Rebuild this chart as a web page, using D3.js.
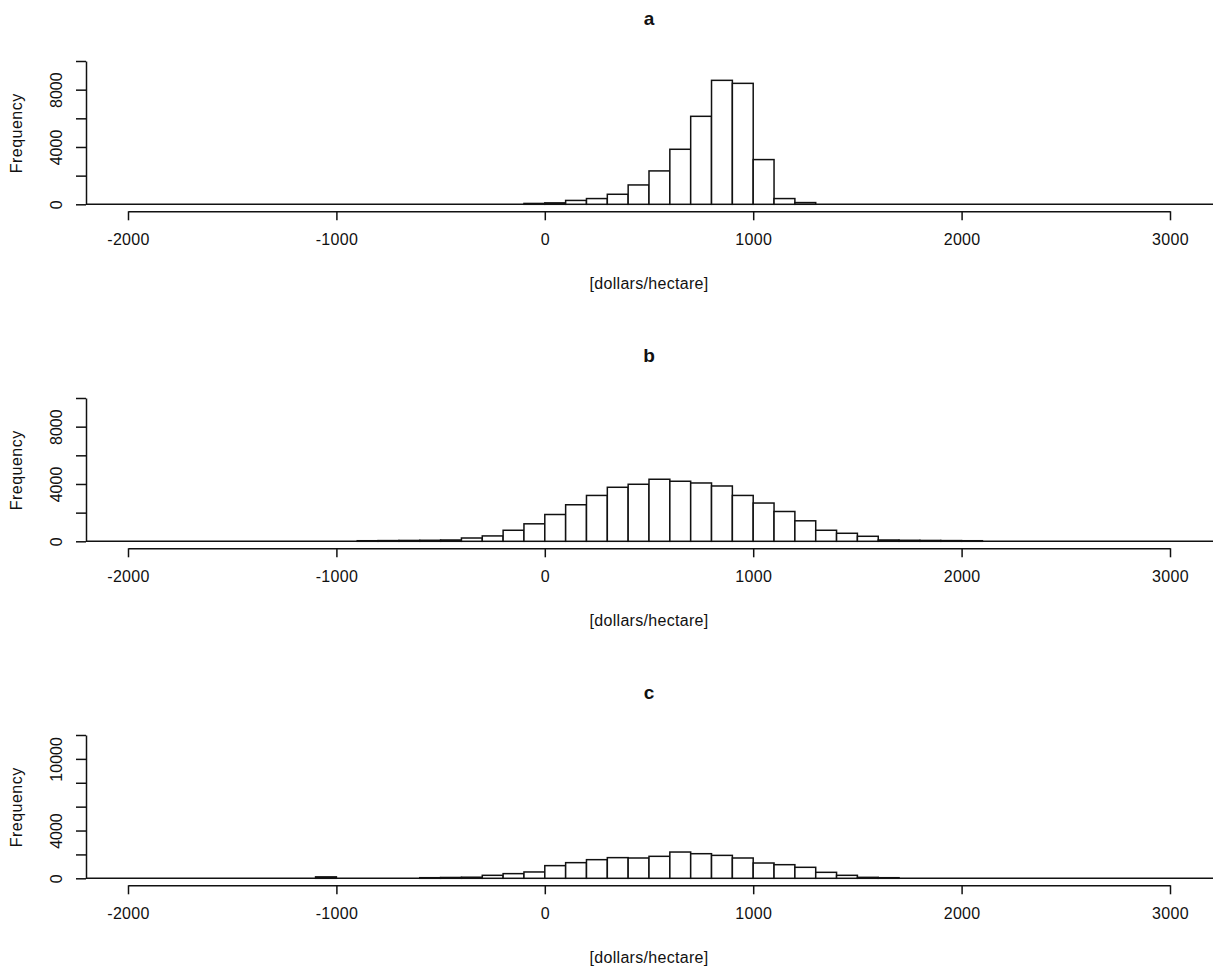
<!DOCTYPE html>
<html>
<head>
<meta charset="utf-8">
<script src="https://cdn.jsdelivr.net/npm/d3@7"></script>
<style>
  body { margin: 0; background: #fff; }
  svg { display: block; font-family: "Liberation Sans", Arial, sans-serif; }
  .axis path, .axis line, .bar, .zero { stroke: #111; stroke-width: 1.5; }
  .axis text { font-size: 16px; fill: #111; }
  .bar { fill: #fff; }
</style>
</head>
<body>
<div class="container"></div>
<script>
// lower bin edges (bin width 100) and counts
const binsA = [-100, 0, 100, 200, 300, 400, 500, 600, 700, 800, 900, 1000, 1100, 1200];
const countsA = [60, 100, 270, 400, 700, 1350, 2330, 3840, 6140, 8650, 8440, 3120, 400, 120];

const binsB = [-900, -800, -700, -600, -500, -400, -300, -200, -100, 0, 100, 200, 300, 400,
  500, 600, 700, 800, 900, 1000, 1100, 1200, 1300, 1400, 1500, 1600, 1700, 1800, 1900, 2000];
const countsB = [40, 50, 60, 70, 90, 230, 375, 770, 1220, 1870, 2550, 3200, 3770, 3980,
  4330, 4190, 4070, 3860, 3200, 2670, 2080, 1430, 770, 560, 350, 90, 70, 60, 50, 40];

const binsC = [-1100, -600, -500, -400, -300, -200, -100, 0, 100, 200, 300, 400, 500, 600,
  700, 800, 900, 1000, 1100, 1200, 1300, 1400, 1500, 1600];
const countsC = [120, 50, 70, 90, 250, 390, 530, 1060, 1310, 1560, 1730, 1700, 1840, 2200,
  2060, 1920, 1700, 1280, 1140, 920, 500, 250, 80, 50];

const xTicks = [-2000, -1000, 0, 1000, 2000, 3000];
const yTicksAB = [0, 2000, 4000, 6000, 8000, 10000];
const yLabelsAB = [0, 4000, 8000];
const yTicksC = [0, 2000, 4000, 6000, 8000, 10000, 12000];
const yLabelsC = [0, 4000, 10000];

const titles = ["a", "b", "c"];
const binWidth = 100;

const W = 1213, H = 968;
const axisX = 86;
const plotH = 143.3;

const svg = d3.select(".container")
  .append("svg")
  .attr("width", W)
  .attr("height", H);

const xScale = d3.scaleLinear().domain([-2000, 3000]).range([128, 1170]);

const panels = [
  { title: titles[0], bins: binsA, counts: countsA, yTicks: yTicksAB, yLabels: yLabelsAB, yMax: 10000, base: 204.3 },
  { title: titles[1], bins: binsB, counts: countsB, yTicks: yTicksAB, yLabels: yLabelsAB, yMax: 10000, base: 541.3 },
  { title: titles[2], bins: binsC, counts: countsC, yTicks: yTicksC, yLabels: yLabelsC, yMax: 12000, base: 878.3 }
];

panels.forEach(p => {
  const g = svg.append("g");
  const yScale = d3.scaleLinear().domain([0, p.yMax]).range([p.base, p.base - plotH]);

  // zero line across the plot
  g.append("line")
    .attr("class", "zero")
    .attr("x1", axisX)
    .attr("x2", W)
    .attr("y1", yScale(0))
    .attr("y2", yScale(0));

  // histogram bars
  g.selectAll("rect.bar")
    .data(p.bins.map((b, i) => ({ x0: b, x1: b + binWidth, n: p.counts[i] })))
    .join("rect")
    .attr("class", "bar")
    .attr("x", d => xScale(d.x0))
    .attr("width", d => xScale(d.x1) - xScale(d.x0))
    .attr("y", d => yScale(d.n))
    .attr("height", d => yScale(0) - yScale(d.n));

  // x axis, a little below the zero line like R's 4% padding
  g.append("g")
    .attr("class", "axis")
    .attr("transform", `translate(0,${p.base + 7})`)
    .call(d3.axisBottom(xScale).tickValues(xTicks).tickSize(9).tickSizeOuter(0).tickPadding(13)
      .tickFormat(v => String(v)))
    .call(a => a.selectAll("text").attr("letter-spacing", "0.3px"));

  // y axis with rotated labels, only some ticks labelled
  g.append("g")
    .attr("class", "axis")
    .attr("transform", `translate(${axisX},0)`)
    .call(d3.axisLeft(yScale).tickValues(p.yTicks).tickSize(10).tickSizeOuter(0)
      .tickFormat(v => p.yLabels.includes(v) ? String(v) : ""))
    .call(a => a.selectAll("text")
      .attr("transform", "rotate(-90)")
      .attr("text-anchor", "middle")
      .attr("x", 0)
      .attr("y", -24)
      .attr("dy", null));

  // titles
  g.append("text")
    .attr("x", 649)
    .attr("y", p.base - 179.5)
    .attr("text-anchor", "middle")
    .attr("font-weight", "bold")
    .attr("font-size", 19)
    .attr("fill", "#111")
    .text(p.title);

  g.append("text")
    .attr("x", 649)
    .attr("y", p.base + 84.5)
    .attr("text-anchor", "middle")
    .attr("font-size", 16)
    .attr("letter-spacing", "0.3px")
    .attr("fill", "#111")
    .text("[dollars/hectare]");

  g.append("text")
    .attr("transform", `translate(22,${p.base - 71}) rotate(-90)`)
    .attr("text-anchor", "middle")
    .attr("font-size", 16)
    .attr("letter-spacing", "0.5px")
    .attr("fill", "#111")
    .text("Frequency");
});
</script>
</body>
</html>
